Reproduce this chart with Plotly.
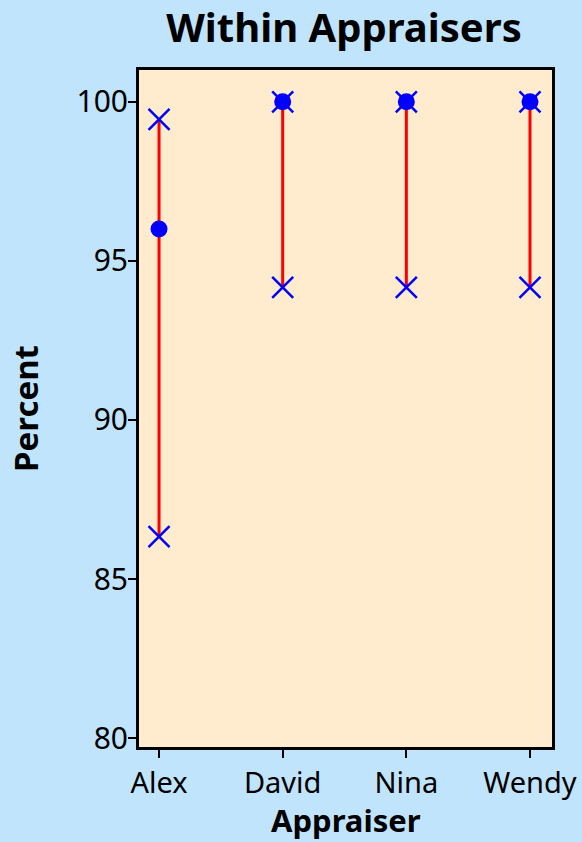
import plotly.graph_objects as go

appraisers = ["Alex", "David", "Nina", "Wendy"]
percent = [96.0, 100.0, 100.0, 100.0]
ci_lower = [86.33, 94.17, 94.17, 94.17]
ci_upper = [99.45, 100.0, 100.0, 100.0]
y_ticks = [80, 85, 90, 95, 100]

idx = list(range(len(appraisers)))
FONT = "Noto Sans"

fig = go.Figure()

# CI lines
lx, ly = [], []
for i in idx:
    lx += [i, i, None]
    ly += [ci_lower[i], ci_upper[i], None]
fig.add_trace(go.Scatter(x=lx, y=ly, mode="lines",
                         line=dict(color="#FF0000", width=3),
                         hoverinfo="skip", showlegend=False))
# CI ends
fig.add_trace(go.Scatter(x=idx + idx, y=ci_lower + ci_upper, mode="markers",
                         marker=dict(symbol="x-thin-open", size=21, color="#0000FF",
                                     line=dict(color="#0000FF", width=2.5)),
                         showlegend=False))
# Percent
fig.add_trace(go.Scatter(x=idx, y=percent, mode="markers",
                         marker=dict(symbol="circle", size=17, color="#0000FF"),
                         showlegend=False))

fig.update_layout(
    width=582, height=842,
    paper_bgcolor="#C0E4FC",
    plot_bgcolor="#FFEBCD",
    margin=dict(l=139, r=30, t=70, b=95, autoexpand=False),
    title=dict(text="<b>Within Appraisers</b>", x=0.591, xanchor="center",
               yref="container", y=0.9667, yanchor="middle",
               font=dict(family=FONT, size=40, color="black")),
    font=dict(family=FONT, color="black"),
)
fig.add_annotation(text="<b>Appraiser</b>", xref="paper", yref="paper",
                   x=0.5, y=-0.1078, xanchor="center", yanchor="middle",
                   showarrow=False, font=dict(size=31, family=FONT, color="black"))
fig.update_xaxes(
    range=[-0.162, 3.178], tickvals=idx, ticktext=appraisers,
    showgrid=False, zeroline=False, automargin=False,
    showline=True, linecolor="black", linewidth=3, mirror=True,
    ticks="outside", ticklen=8, tickwidth=2, tickcolor="black",
    tickfont=dict(size=29, family=FONT),
)
fig.update_yaxes(
    range=[79.72, 101.0], tickvals=y_ticks,
    showgrid=False, zeroline=False, automargin=False,
    showline=True, linecolor="black", linewidth=3, mirror=True,
    ticks="outside", ticklen=8, tickwidth=2, tickcolor="black",
    tickfont=dict(size=30, family=FONT),
    title=dict(text="<b>Percent</b>", font=dict(size=33, family=FONT), standoff=28),
)
try:
    fig.update_yaxes(ticklabelstandoff=-6)
except ValueError:
    pass

fig.write_html("out.html", config={"displayModeBar": False},
               post_script="document.body.style.margin='0';document.body.style.padding='0';")
